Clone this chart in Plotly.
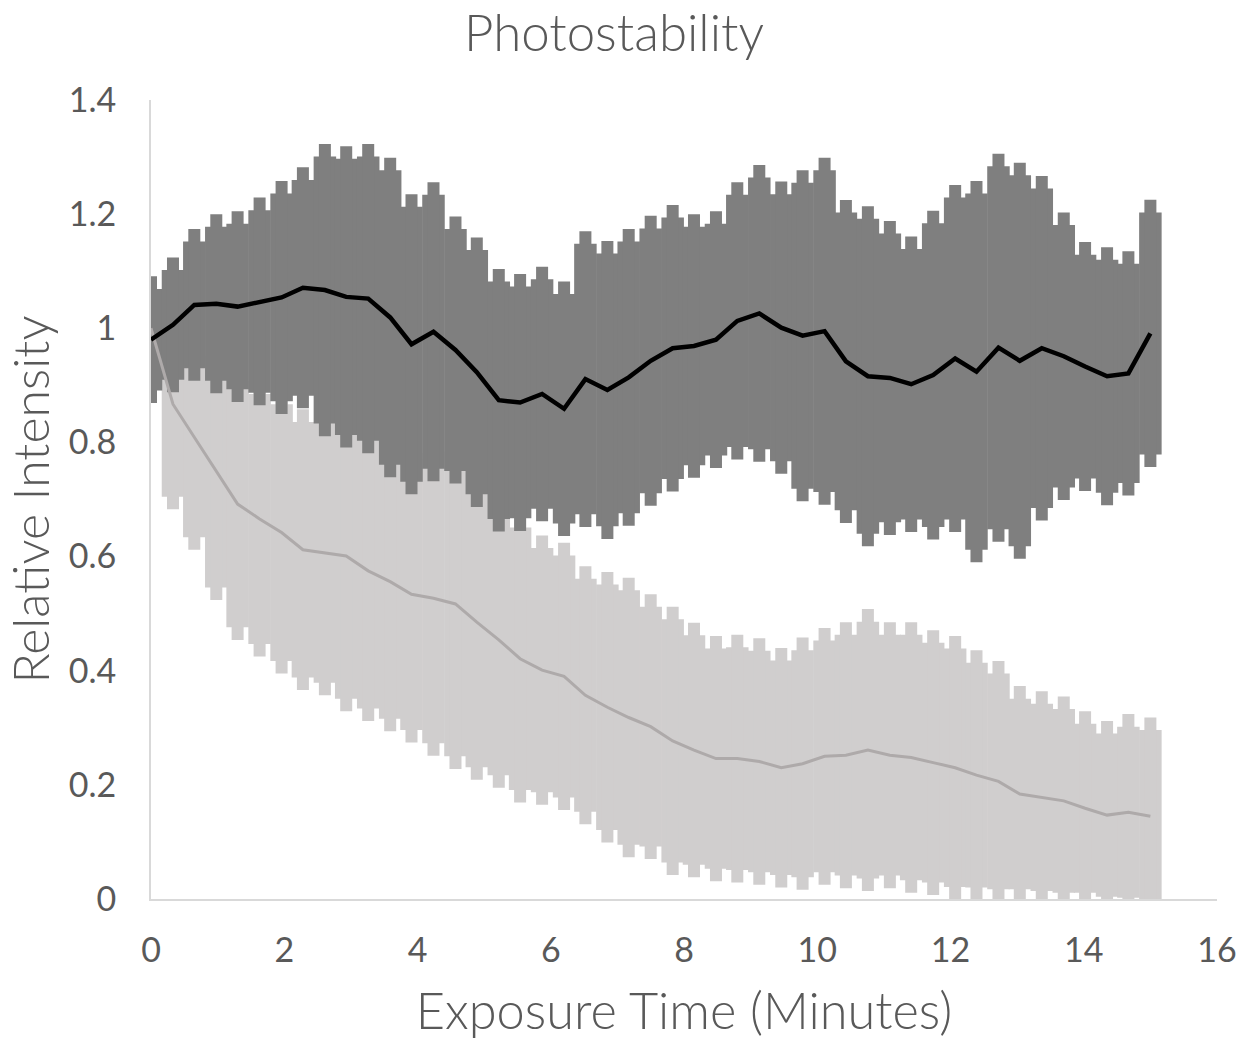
import numpy as np
import plotly.graph_objects as go

# Exposure time (minutes)
time_min = [0.00, 0.33, 0.65, 0.98, 1.30, 1.63, 1.96, 2.28, 2.61, 2.93, 3.26, 3.59,
            3.91, 4.24, 4.57, 4.89, 5.22, 5.54, 5.87, 6.20, 6.52, 6.85, 7.17, 7.50,
            7.83, 8.15, 8.48, 8.80, 9.13, 9.46, 9.78, 10.11, 10.43, 10.76, 11.09, 11.41,
            11.74, 12.07, 12.39, 12.72, 13.04, 13.37, 13.70, 14.02, 14.35, 14.67, 15.00]

# Stable series (black line, dark grey error bars)
stable_mean = [0.980, 1.006, 1.041, 1.043, 1.038, 1.047, 1.054, 1.071, 1.067, 1.055, 1.052, 1.019,
               0.972, 0.994, 0.962, 0.923, 0.874, 0.870, 0.885, 0.859, 0.911, 0.892, 0.914, 0.943,
               0.965, 0.969, 0.980, 1.013, 1.026, 1.001, 0.987, 0.995, 0.942, 0.916, 0.913, 0.902,
               0.918, 0.947, 0.924, 0.966, 0.943, 0.965, 0.951, 0.933, 0.916, 0.921, 0.991]
stable_err = [0.111, 0.118, 0.133, 0.157, 0.167, 0.182, 0.204, 0.211, 0.256, 0.264, 0.271, 0.280,
              0.263, 0.262, 0.234, 0.236, 0.230, 0.225, 0.223, 0.223, 0.259, 0.261, 0.260, 0.254,
              0.251, 0.231, 0.225, 0.243, 0.260, 0.256, 0.290, 0.304, 0.283, 0.298, 0.275, 0.259,
              0.288, 0.304, 0.334, 0.340, 0.347, 0.302, 0.252, 0.218, 0.226, 0.214, 0.234]

# Fading series (light grey line, light grey error bars)
fading_mean = [1.000, 0.867, 0.809, 0.749, 0.692, 0.666, 0.642, 0.612, 0.607, 0.601, 0.575, 0.556,
               0.534, 0.527, 0.517, 0.485, 0.454, 0.421, 0.401, 0.390, 0.357, 0.336, 0.318, 0.302,
               0.277, 0.261, 0.246, 0.246, 0.241, 0.230, 0.237, 0.250, 0.252, 0.261, 0.252, 0.248,
               0.239, 0.230, 0.217, 0.206, 0.184, 0.178, 0.172, 0.159, 0.147, 0.152, 0.145]
fading_err = [0.000, 0.184, 0.197, 0.225, 0.238, 0.241, 0.247, 0.246, 0.250, 0.272, 0.263, 0.262,
              0.260, 0.276, 0.289, 0.276, 0.259, 0.252, 0.236, 0.234, 0.226, 0.237, 0.245, 0.232,
              0.235, 0.223, 0.215, 0.217, 0.216, 0.210, 0.221, 0.225, 0.233, 0.247, 0.233, 0.237,
              0.232, 0.231, 0.219, 0.211, 0.189, 0.186, 0.183, 0.170, 0.165, 0.172, 0.173]

x_ticks = [0, 2, 4, 6, 8, 10, 12, 14, 16]
y_ticks = [0, 0.2, 0.4, 0.6, 0.8, 1.0, 1.2, 1.4]
y_tick_text = ["0", "0.2", "0.4", "0.6", "0.8", "1", "1.2", "1.4"]

# style constants
DARK = "#7f7f7f"
LIGHT = "#d0cece"
LIGHT_LINE = "#aeaaaa"
TEXT = "#595959"
AXIS = "#d9d9d9"
FONT = "Lato"
TAB_EXT = 0.022   # how much the narrow centre part of each bar extends past the wide part


def bar_traces(mean, err, color):
    err = np.asarray(err, dtype=float)
    wide = np.clip(err - TAB_EXT, 0, None)
    out = []
    for arr, thick in ((wide, 22.5), (err, 12)):
        out.append(go.Scatter(
            x=time_min, y=mean, mode="markers",
            marker=dict(size=1, opacity=0, color=color),
            error_y=dict(type="data", array=arr, symmetric=True,
                         thickness=thick, width=0, color=color),
            hoverinfo="skip", showlegend=False))
    return out


fig = go.Figure()
for tr in bar_traces(fading_mean, fading_err, LIGHT):
    fig.add_trace(tr)
for tr in bar_traces(stable_mean, stable_err, DARK):
    fig.add_trace(tr)
fig.add_trace(go.Scatter(x=time_min, y=fading_mean, mode="lines",
                         line=dict(color=LIGHT_LINE, width=3), showlegend=False))
fig.add_trace(go.Scatter(x=time_min, y=stable_mean, mode="lines",
                         line=dict(color="#000000", width=4.5), showlegend=False))

fig.update_layout(
    width=1248, height=1040,
    margin=dict(l=151, r=31, t=100, b=141, autoexpand=False),
    paper_bgcolor="white", plot_bgcolor="white",
    font=dict(family=FONT, color=TEXT),
    title=dict(text="Photostability", x=614 / 1248, xanchor="center", xref="container",
               y=1 - 33 / 1040, yanchor="middle",
               font=dict(family=FONT, size=51, color=TEXT, weight=300)),
    showlegend=False,
)

fig.update_xaxes(range=[0, 16], tickvals=x_ticks, ticktext=[str(v) for v in x_ticks],
                 automargin=False,
                 showgrid=False, zeroline=False, showline=True, linecolor=AXIS, linewidth=2,
                 ticks="", tickfont=dict(size=34, color=TEXT), ticklabelstandoff=20,
                 title=dict(text="Exposure Time (Minutes)", standoff=26,
                            font=dict(size=50.5, color=TEXT, weight=300)))
fig.update_yaxes(range=[0, 1.4], tickvals=y_ticks, ticktext=y_tick_text,
                 automargin=False,
                 showgrid=False, zeroline=False, showline=True, linecolor=AXIS, linewidth=2,
                 ticks="", tickfont=dict(size=34, color=TEXT), ticklabelstandoff=26,
                 title=dict(text="Relative Intensity", standoff=18,
                            font=dict(size=50, color=TEXT, weight=300)))

fig.write_html("out.html", config={"displayModeBar": False},
               post_script="document.body.style.margin='0';")
